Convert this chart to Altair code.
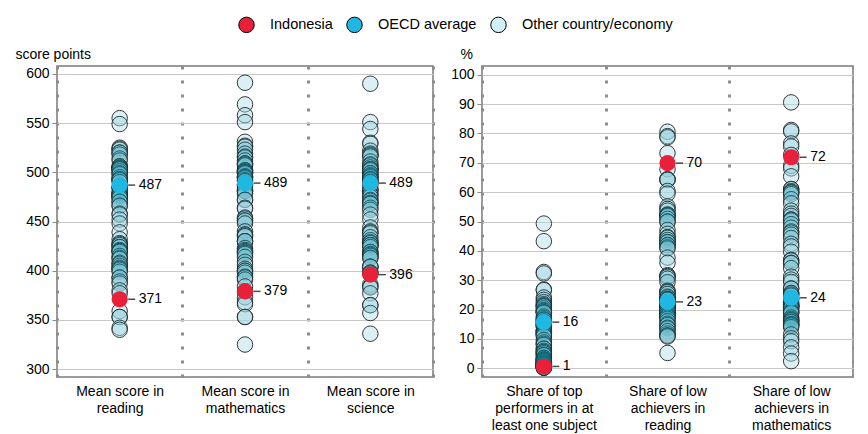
import altair as alt
import pandas as pd

FONT = "Liberation Sans"

groups = ["Indonesia", "OECD average", "Other country/economy"]
group_colors = ["#e8203a", "#1fb8e3", "#d3eef5"]

score_cats = ["Mean score in\nreading", "Mean score in\nmathematics", "Mean score in\nscience"]
share_cats = ["Share of top\nperformers in at\nleast one subject",
              "Share of low\nachievers in\nreading",
              "Share of low\nachievers in\nmathematics"]

indonesia_scores = [371, 379, 396]
oecd_scores = [487, 489, 489]
indonesia_shares = [0.6, 69.9, 71.9]
oecd_shares = [15.7, 22.6, 24.0]

reading_others = [555, 549, 525, 524, 523, 520, 520, 518, 514, 512, 506, 506, 505, 504, 504, 503, 503,
                  501, 499, 498, 495, 493, 493, 492, 490, 485, 484, 484, 479, 479, 479, 476, 476, 476,
                  474, 474, 470, 470, 466, 466, 458, 457, 452, 448, 439, 432, 428, 427, 426, 424, 424,
                  421, 420, 420, 419, 415, 413, 412, 408, 407, 405, 403, 402, 401, 399, 393, 393, 389,
                  387, 380, 377, 359, 353, 353, 342, 340]
math_others = [591, 569, 558, 551, 531, 527, 526, 523, 519, 516, 515, 512, 509, 509, 508, 507, 502,
               502, 501, 500, 500, 499, 499, 496, 495, 495, 494, 492, 491, 488, 487, 486, 483, 481,
               481, 481, 478, 472, 472, 464, 463, 454, 453, 451, 451, 448, 440, 437, 436, 435, 430,
               430, 430, 423, 421, 420, 419, 418, 417, 414, 409, 406, 402, 400, 400, 398, 394, 393,
               391, 384, 379, 373, 368, 366, 353, 353, 325]
science_others = [590, 551, 544, 530, 529, 522, 519, 518, 517, 516, 511, 508, 507, 505, 503, 503, 503,
                  502, 499, 499, 497, 496, 495, 493, 493, 492, 490, 490, 487, 483, 482, 481, 478, 477,
                  475, 472, 471, 469, 468, 468, 464, 462, 457, 452, 444, 440, 439, 438, 434, 431, 429,
                  428, 426, 426, 426, 424, 419, 419, 417, 416, 415, 413, 413, 404, 404, 404, 398, 398,
                  397, 386, 384, 383, 377, 365, 365, 357, 336]
top_others = [49.3, 43.3, 32.8, 32.3, 26.8, 26.6, 24.1, 23.3, 22.5, 21.8, 21.4, 21.2, 21.0, 20.4, 19.8,
              19.5, 19.1, 19.0, 18.9, 17.6, 17.1, 16.6, 16.5, 15.9, 15.8, 15.2, 15.0, 14.6, 14.4, 14.2,
              12.9, 12.8, 12.5, 12.1, 11.8, 11.6, 11.3, 10.9, 9.6, 8.8, 8.3, 7.9, 6.7, 6.6, 5.9, 5.5,
              5.5, 5.1, 4.6, 4.4, 3.5, 3.5, 3.1, 2.8, 2.8, 2.5, 2.4, 2.3, 1.9, 1.9, 1.5, 1.5, 1.3, 1.3,
              1.2, 1.2, 1.1, 1.1, 0.9, 0.5, 0.5, 0.3, 0.3, 0.2, 0.2, 0.2]
lowread_others = [80.6, 79.1, 78.7, 73.3, 67.8, 64.4, 64.3, 64.2, 60.4, 59.5, 55.1, 54.3, 53.7, 52.4,
                  52.2, 52.1, 51.8, 50.9, 50.0, 49.9, 47.1, 45.8, 44.7, 44.4, 43.7, 43.0, 42.9, 42.0,
                  41.9, 41.2, 40.8, 37.7, 35.9, 31.7, 31.4, 31.1, 30.5, 29.3, 26.4, 26.1, 25.9, 25.3,
                  24.4, 24.1, 23.6, 23.6, 23.4, 23.3, 22.4, 22.1, 21.6, 21.3, 20.9, 20.7, 20.7, 20.2,
                  19.6, 19.3, 19.3, 19.0, 18.4, 17.9, 17.8, 17.3, 16.8, 16.0, 15.1, 14.7, 13.8, 13.5,
                  12.6, 11.8, 11.2, 11.1, 10.8, 5.2]
lowmath_others = [90.6, 81.2, 80.7, 76.6, 75.6, 72.7, 69.0, 68.1, 65.4, 61.1, 61.0, 60.3, 60.0, 59.8,
                  59.3, 57.6, 56.2, 53.7, 52.7, 51.9, 50.7, 50.6, 50.3, 49.1, 47.9, 46.6, 46.2, 45.5,
                  44.4, 42.4, 41.5, 39.7, 36.9, 36.7, 35.9, 35.8, 34.1, 31.2, 30.2, 29.4, 27.2, 27.1,
                  25.6, 25.6, 25.1, 24.7, 23.8, 23.3, 22.4, 21.8, 21.6, 21.3, 21.1, 21.1, 20.7, 20.4,
                  19.7, 19.2, 18.9, 18.8, 17.3, 16.8, 16.4, 16.3, 15.8, 15.7, 15.0, 15.0, 14.7, 14.6,
                  14.0, 11.5, 10.2, 9.2, 7.1, 5.0, 2.4]


def build_df(cats, others_lists, oecd, indo):
    rows = []
    for cat, others in zip(cats, others_lists):
        for v in others:
            rows.append({"cat": cat, "group": groups[2], "value": v})
    for cat, v in zip(cats, oecd):
        rows.append({"cat": cat, "group": groups[1], "value": v})
    for cat, v in zip(cats, indo):
        rows.append({"cat": cat, "group": groups[0], "value": v})
    return pd.DataFrame(rows)


score_df = build_df(score_cats, [reading_others, math_others, science_others], oecd_scores, indonesia_scores)
share_df = build_df(share_cats, [top_others, lowread_others, lowmath_others], oecd_shares, indonesia_shares)

fill_scale = alt.Scale(domain=groups, range=group_colors)
legend = alt.Legend(title=None, orient="none", legendX=181, legendY=-50, direction="horizontal",
                    symbolType="circle", symbolSize=240, symbolStrokeColor="black",
                    symbolStrokeWidth=1, symbolOpacity=1,
                    labelFontSize=14.5, labelFont=FONT, labelColor="#000",
                    labelOffset=15, columnPadding=11)


def panel(df, cats, ydomain, yticks, ytitle, title_x, width):
    x = alt.X("cat:N", sort=cats, bandPosition=0.5,
              scale=alt.Scale(type="band", domain=cats, paddingInner=0, paddingOuter=0),
              axis=alt.Axis(title=None, labelExpr="split(datum.label, '\\n')", tickBand="extent",
                            grid=True, gridDash=[3, 11], gridWidth=3, gridColor="#8c8c8c",
                            ticks=False, domain=False, labelFontSize=14, labelPadding=7,
                            labelLineHeight=17, labelLimit=300, labelColor="#000", labelAngle=0,
                            labelFont=FONT))
    y = alt.Y("value:Q", scale=alt.Scale(domain=ydomain, nice=False, zero=False),
              axis=alt.Axis(values=yticks, title=ytitle, titleAngle=0, titleAlign="left",
                            titleBaseline="middle", titleX=title_x, titleY=-12, titleFontSize=14,
                            titleFontWeight="normal", titleColor="#000", titleFont=FONT,
                            labelFontSize=14, labelColor="#000", labelFont=FONT, labelPadding=3,
                            tickColor="#888888", tickSize=5, domain=False, grid=True,
                            gridColor="#c8c8c8", gridWidth=1))
    fill = alt.Fill("group:N", scale=fill_scale, legend=legend)
    base = alt.Chart(df)
    oth = base.transform_filter(alt.datum.group == groups[2])
    others = oth.mark_circle(
        size=240, stroke="#222222", strokeWidth=1, strokeOpacity=0.9, fillOpacity=0.4
    ).encode(x=x, y=y, fill=fill)
    shade = oth.mark_circle(size=240, fill="#138fa5", fillOpacity=0.08, strokeWidth=0).encode(x=x, y=y)
    hl = base.transform_filter(alt.datum.group != groups[2])
    oecd = base.transform_filter(alt.datum.group == groups[1]).mark_circle(
        size=260, opacity=1).encode(x=x, y=y, fill=fill)
    indo = base.transform_filter(alt.datum.group == groups[0]).mark_circle(
        size=260, opacity=1).encode(x=x, y=y, fill=fill)
    leader = hl.mark_tick(size=7, thickness=1.5, xOffset=12, color="black",
                          orient="horizontal").encode(x=x, y=y)
    labels = hl.mark_text(align="left", baseline="middle", dx=19, fontSize=14, font=FONT,
                          color="black").encode(x=x, y=y, text=alt.Text("value:Q", format=".0f"))
    return alt.layer(others, shade, oecd, indo, leader, labels).properties(width=width, height=311)


left = panel(score_df, score_cats, [292, 608], list(range(300, 601, 50)), "score points", -42, 376)
right = panel(share_df, share_cats, [-3, 103], list(range(0, 101, 10)), "%", -22, 371)

chart = alt.hconcat(left, right, spacing=15).resolve_scale(fill="shared").properties(
    padding={"left": 6, "top": 8, "right": 0, "bottom": 0}
).configure(font=FONT).configure_view(stroke="#7a7a7a", strokeWidth=1.5)

chart.save("out.html", embed_options={"renderer": "svg", "actions": False})
